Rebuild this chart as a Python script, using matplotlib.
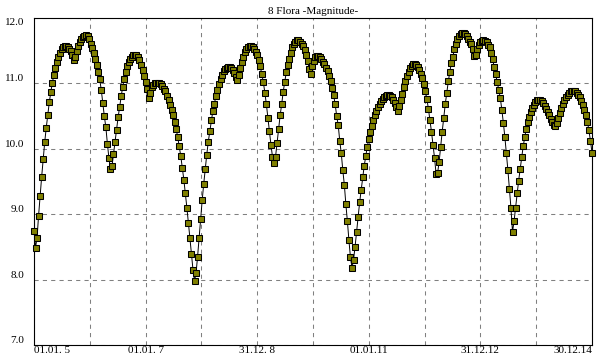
import matplotlib
matplotlib.use("Agg")
import matplotlib.pyplot as plt
import pandas as pd

plt.rcParams['font.family'] = ['Liberation Serif', 'DejaVu Serif']

# ephemeris of 8 Flora, one value every 10 days from 01.01.2005
start_date = "2005-01-01"
step = "10D"
magnitude = [
    8.75, 8.49, 8.64, 8.98, 9.28, 9.57, 9.84, 10.10, 10.32, 10.52,
    10.71, 10.87, 11.01, 11.13, 11.24, 11.33, 11.40, 11.47, 11.52, 11.55,
    11.57, 11.57, 11.56, 11.53, 11.49, 11.44, 11.36, 11.40, 11.49, 11.57,
    11.63, 11.68, 11.71, 11.73, 11.74, 11.72, 11.68, 11.61, 11.54, 11.47,
    11.38, 11.28, 11.18, 11.06, 10.90, 10.70, 10.50, 10.33, 10.08, 9.86,
    9.69, 9.73, 9.92, 10.11, 10.29, 10.48, 10.64, 10.81, 10.95, 11.07,
    11.17, 11.26, 11.33, 11.38, 11.41, 11.43, 11.44, 11.43, 11.41, 11.36,
    11.28, 11.20, 11.11, 11.02, 10.92, 10.78, 10.86, 10.94, 10.98, 11.00,
    11.01, 11.01, 11.00, 10.99, 10.96, 10.92, 10.88, 10.81, 10.75, 10.67,
    10.60, 10.51, 10.41, 10.30, 10.18, 10.04, 9.89, 9.71, 9.53, 9.32,
    9.10, 8.87, 8.63, 8.39, 8.15, 7.98, 8.10, 8.35, 8.64, 8.93,
    9.21, 9.46, 9.69, 9.91, 10.11, 10.27, 10.44, 10.58, 10.69, 10.81,
    10.90, 10.99, 11.06, 11.13, 11.19, 11.22, 11.24, 11.25, 11.25, 11.24,
    11.21, 11.16, 11.10, 11.05, 11.13, 11.23, 11.32, 11.41, 11.48, 11.53,
    11.56, 11.57, 11.57, 11.56, 11.53, 11.48, 11.43, 11.36, 11.26, 11.14,
    11.02, 10.86, 10.68, 10.47, 10.27, 10.06, 9.88, 9.78, 9.88, 10.09,
    10.30, 10.51, 10.68, 10.87, 11.02, 11.17, 11.28, 11.38, 11.47, 11.55,
    11.60, 11.64, 11.66, 11.66, 11.64, 11.61, 11.57, 11.51, 11.44, 11.35,
    11.22, 11.15, 11.27, 11.35, 11.40, 11.42, 11.42, 11.40, 11.37, 11.33,
    11.29, 11.24, 11.19, 11.12, 11.03, 10.93, 10.82, 10.68, 10.50, 10.36,
    10.12, 9.93, 9.67, 9.45, 9.15, 8.89, 8.60, 8.34, 8.18, 8.30,
    8.50, 8.73, 8.96, 9.18, 9.37, 9.57, 9.74, 9.89, 10.03, 10.15,
    10.26, 10.35, 10.44, 10.52, 10.58, 10.64, 10.69, 10.73, 10.76, 10.79,
    10.81, 10.82, 10.82, 10.81, 10.79, 10.75, 10.70, 10.64, 10.58, 10.65,
    10.75, 10.84, 10.95, 11.03, 11.11, 11.18, 11.24, 11.27, 11.29, 11.29,
    11.28, 11.25, 11.20, 11.15, 11.08, 10.99, 10.88, 10.76, 10.61, 10.44,
    10.26, 10.06, 9.86, 9.62, 9.63, 9.80, 10.03, 10.26, 10.47, 10.68,
    10.86, 11.03, 11.18, 11.31, 11.41, 11.52, 11.61, 11.68, 11.73, 11.76,
    11.77, 11.77, 11.75, 11.72, 11.68, 11.63, 11.60, 11.52, 11.42, 11.43,
    11.53, 11.59, 11.63, 11.65, 11.66, 11.65, 11.63, 11.59, 11.55, 11.47,
    11.38, 11.25, 11.14, 11.02, 10.90, 10.78, 10.60, 10.40, 10.18, 9.93,
    9.67, 9.38, 9.09, 8.73, 8.89, 9.10, 9.32, 9.51, 9.69, 9.88,
    10.04, 10.18, 10.31, 10.41, 10.49, 10.57, 10.62, 10.67, 10.71, 10.74,
    10.75, 10.75, 10.73, 10.70, 10.66, 10.61, 10.56, 10.51, 10.46, 10.41,
    10.37, 10.35, 10.40, 10.47, 10.55, 10.62, 10.68, 10.74, 10.79, 10.83,
    10.86, 10.88, 10.89, 10.89, 10.88, 10.86, 10.83, 10.79, 10.73, 10.67,
    10.60, 10.52, 10.41, 10.28, 10.12, 9.94,
]
dates = pd.date_range(start_date, periods=len(magnitude), freq=step)

# x grid every 365 days, label on every second line
grid_dates = pd.date_range(start_date, periods=11, freq="365D")
x_labels = ["01.01. 5", "", "01.01. 7", "", "31.12. 8", "",
            "01.01.11", "", "31.12.12", "", "30.12.14"]
y_ticks = [7.0, 8.0, 9.0, 10.0, 11.0, 12.0]

fig = plt.figure(figsize=(6, 3.6), dpi=100)
ax = fig.add_axes([34 / 600, 15 / 360, 558 / 600, 327 / 360])

ax.plot(dates, magnitude, color='black', linewidth=0.7, marker='s',
        markersize=5, markerfacecolor='#808000', markeredgecolor='black',
        markeredgewidth=0.75, clip_on=False, zorder=3)

ax.set_xlim(grid_dates[0], grid_dates[-1])
ax.set_ylim(7.0, 12.0)
ax.set_xticks(grid_dates)
ax.set_xticklabels(x_labels)
ax.set_yticks(y_ticks)
ax.set_yticklabels([f"{v:.1f}" for v in y_ticks])
ax.grid(True, color='#808080', linestyle=(0, (4, 4)), linewidth=0.75)
ax.set_axisbelow(True)
ax.tick_params(length=0, labelsize=8, colors='black')
ax.tick_params(axis='x', pad=1)
ax.tick_params(axis='y', pad=7)

xl = ax.get_xticklabels()
xl[0].set_horizontalalignment('left')
xl[-1].set_horizontalalignment('right')
yl = ax.get_yticklabels()
for t in yl[:-1]:
    t.set_verticalalignment('bottom')
yl[-1].set_verticalalignment('top')

for s in ax.spines.values():
    s.set_linewidth(0.8)
    s.set_color('black')

ax.set_title("8 Flora -Magnitude-", fontsize=8, pad=3)

fig.savefig("out.png", dpi=100)
